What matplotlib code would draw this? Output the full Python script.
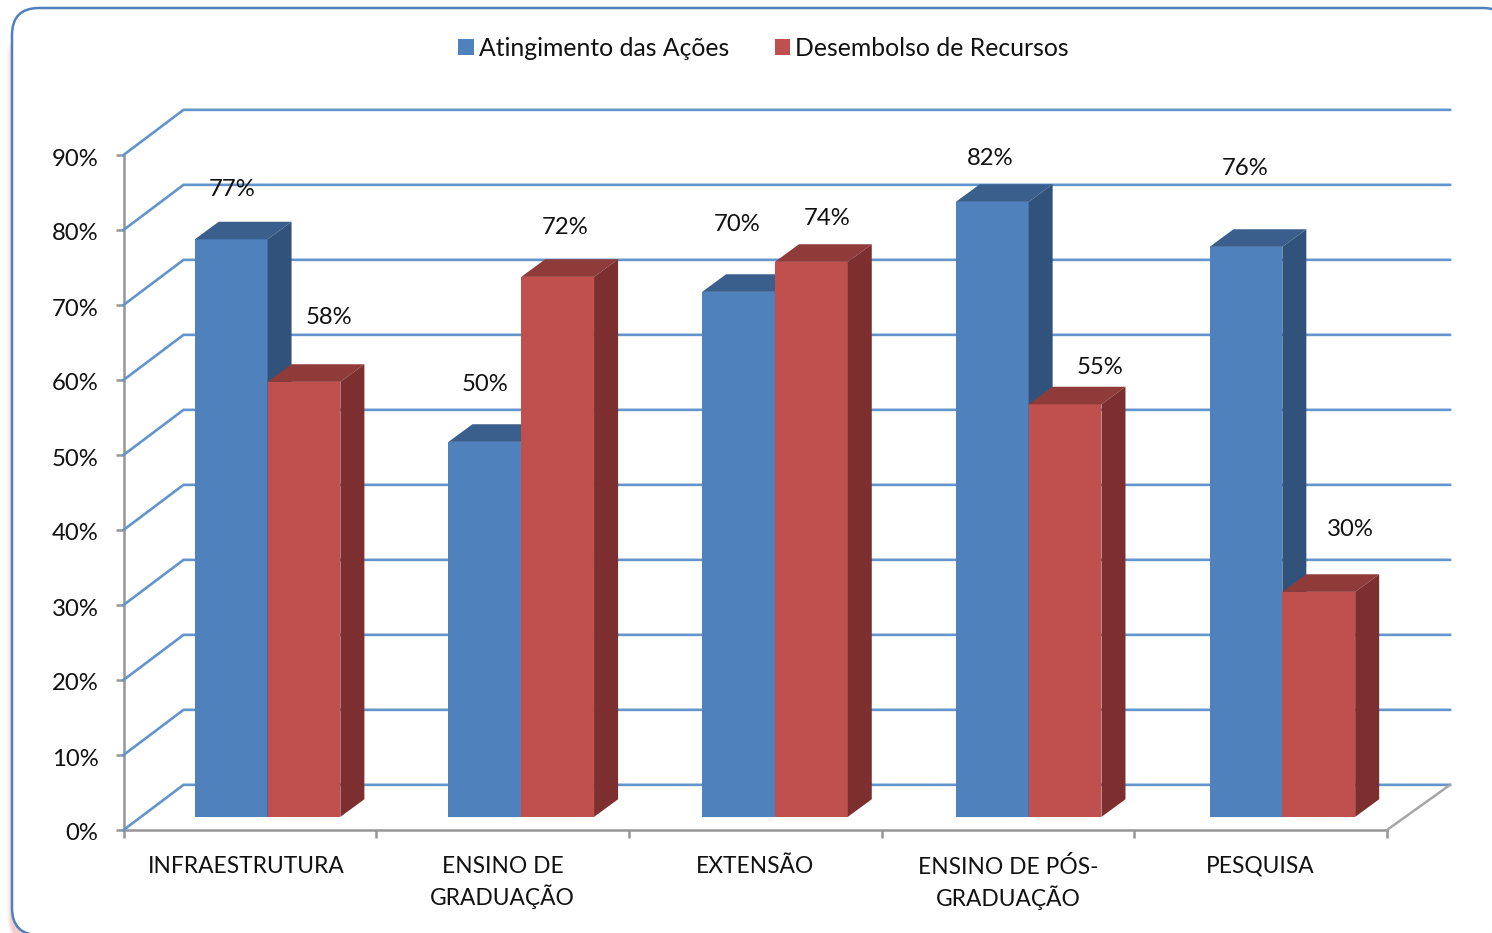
import matplotlib
matplotlib.use("Agg")
import matplotlib.pyplot as plt
from matplotlib.patches import FancyBboxPatch, Patch
from matplotlib.transforms import ScaledTranslation

plt.rcParams["font.family"] = ["Lato", "DejaVu Sans"]

categories = ["INFRAESTRUTURA", "ENSINO DE\nGRADUAÇÃO", "EXTENSÃO",
              "ENSINO DE PÓS-\nGRADUAÇÃO", "PESQUISA"]
atingimento = [77, 50, 70, 82, 76]
desembolso = [58, 72, 74, 55, 30]
series_names = ["Atingimento das Ações", "Desembolso de Recursos"]
percent_ticks = list(range(0, 100, 10))

# Label offsets from the top-centre of each bar's front face, in pixels
label_offsets_blue = [(1, 50), (0, 57), (-1, 67), (-2, 43), (-1, 78)]
label_offsets_red = [(25, 64), (7, 49), (16, 43), (35, 37), (32, 62)]

W, H = 1492, 933
BLUE = ("#4F81BD", "#3A5F8D", "#31527B")
RED = ("#C0504D", "#8F3B39", "#7C2F2E")
GRID = "#6394CC"
AXIS = "#969696"
TEXT = "#111111"

# Depth of the chart box and of the bars, expressed in data units
WALL_DX, WALL_DY = 60 / 252.6, 6.02
FLOOR_DX = 63 / 252.6
BAR_DX, BAR_DY = 24 / 252.6, 2.35
PLANE_DX, PLANE_DY = 0.07, 1.75
BAR_W = 72.8 / 252.6
GROUP_STEP = 253.6 / 252.6

fig = plt.figure(figsize=(W / 100, H / 100), dpi=100, facecolor="white")
px_to_in = 1 / fig.dpi
px_to_pt = 72 / fig.dpi

# Rounded panel behind the chart, with a faint warm shadow along its left edge
bg = fig.add_axes([0, 0, 1, 1], zorder=0)
bg.set_xlim(0, W)
bg.set_ylim(H, 0)
bg.axis("off")
for grow, alpha in [(5, 0.05), (4, 0.07), (3, 0.09), (2, 0.12), (1, 0.14)]:
    bg.add_patch(FancyBboxPatch((12 - grow, 30), 1520, 915,
                                boxstyle="round,pad=0,rounding_size=27",
                                fc="#E8837A", ec="none", alpha=alpha))
bg.add_patch(FancyBboxPatch((12, 8), 1498, 927,
                            boxstyle="round,pad=0,rounding_size=27",
                            fc="white", ec="#4F81BD", lw=1.8))

ax = fig.add_axes([123.5 / W, 1 - 830 / H, (1387 - 123.5) / W, (830 - 155) / H], zorder=1)
ax.patch.set_alpha(0)
ax.set_xlim(0, 5)
ax.set_ylim(0, 90)
for side in ("top", "right"):
    ax.spines[side].set_visible(False)
for side in ("left", "bottom"):
    ax.spines[side].set_color(AXIS)
    ax.spines[side].set_linewidth(1.8)
    ax.spines[side].set_zorder(1)

# Gridlines run from the axis, back along the side wall, then across the rear wall
for p in percent_ticks:
    ax.plot([0, WALL_DX, 5 + FLOOR_DX],
            [p, p + WALL_DY, p + WALL_DY],
            color=GRID, lw=1.9, clip_on=False, zorder=2, solid_joinstyle="miter")
ax.plot([5, 5 + FLOOR_DX], [0, WALL_DY], color="#A6A6A6", lw=1.8, clip_on=False, zorder=2)


def draw_bar(x_left, value, colours, z):
    face, top, side = colours
    base = PLANE_DY
    ax.bar(x_left, value, BAR_W, bottom=base, align="edge", color=face,
           lw=0, zorder=z, clip_on=False)
    y_top = base + value
    x_right = x_left + BAR_W
    ax.fill([x_left, x_right, x_right + BAR_DX, x_left + BAR_DX],
            [y_top, y_top, y_top + BAR_DY, y_top + BAR_DY],
            color=top, lw=0, zorder=z, clip_on=False)
    ax.fill([x_right, x_right + BAR_DX, x_right + BAR_DX, x_right],
            [base, base + BAR_DY, y_top + BAR_DY, y_top],
            color=side, lw=0, zorder=z, clip_on=False)


for i, (a, d) in enumerate(zip(atingimento, desembolso)):
    centre = 0.5 + PLANE_DX + i * GROUP_STEP
    draw_bar(centre - BAR_W, a, BLUE, 3 + i * 0.1)
    draw_bar(centre, d, RED, 3.05 + i * 0.1)
    for value, x_c, (ox, oy) in ((a, centre - BAR_W / 2, label_offsets_blue[i]),
                                 (d, centre + BAR_W / 2, label_offsets_red[i])):
        ax.annotate(f"{value}%", (x_c, PLANE_DY + value),
                    xytext=(ox * px_to_pt, oy * px_to_pt), textcoords="offset points",
                    ha="center", va="center", fontsize=17.2, color=TEXT, zorder=6,
                    annotation_clip=False)

ax.set_yticks(percent_ticks, [f"{p}%" for p in percent_ticks])
ax.set_xticks(range(6), [""] * 6)
ax.set_xticks([i + 0.5 for i in range(5)], categories, minor=True)
ax.tick_params(axis="y", length=5.5, width=1.8, color=AXIS, pad=12.5,
               labelsize=17.2, labelcolor=TEXT)
ax.tick_params(axis="x", which="major", length=6, width=1.8, color=AXIS)
ax.tick_params(axis="x", which="minor", length=0, pad=18.5, labelsize=16.4, labelcolor=TEXT)
for lab in ax.get_xticklabels(minor=True):
    lab.set_linespacing(1.37)

# Small nudges: percent labels sit a little lower, the first category a little left
for lab in ax.get_yticklabels():
    lab.set_transform(lab.get_transform()
                      + ScaledTranslation(0, -2 * px_to_in, fig.dpi_scale_trans))
first = ax.get_xticklabels(minor=True)[0]
first.set_transform(first.get_transform()
                    + ScaledTranslation(-4 * px_to_in, 0, fig.dpi_scale_trans))

handles = [Patch(color=BLUE[0], lw=0), Patch(color=RED[0], lw=0)]
fig.legend(handles, series_names, loc="center", bbox_to_anchor=(763.5 / W, 1 - 48.5 / H),
           ncols=2, frameon=False, fontsize=17.8, labelcolor=TEXT,
           handlelength=0.62, handleheight=0.62, handletextpad=0.2, columnspacing=1.85)

fig.savefig("out.png", dpi=100)
